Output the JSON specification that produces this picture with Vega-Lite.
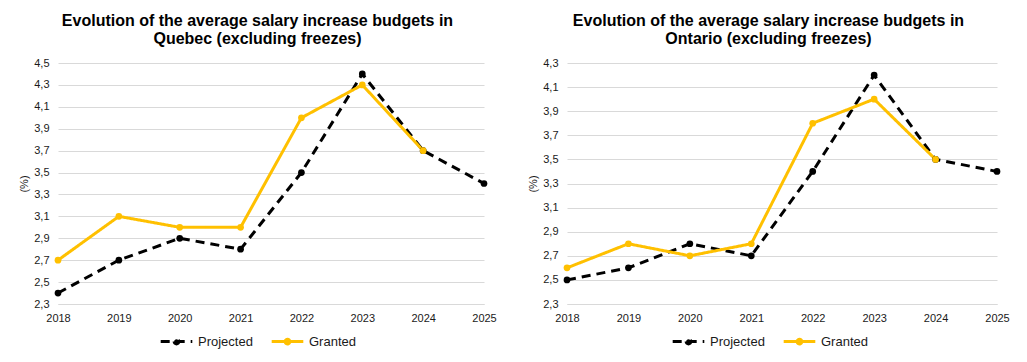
{
  "$schema": "https://vega.github.io/schema/vega-lite/v6.json",
  "background": "white",
  "padding": {"left": 18, "top": 13, "right": 10, "bottom": 5},
  "datasets": {
    "d": [
      {"region": "Quebec", "year": "2018", "series": "Projected", "value": 2.4},
      {"region": "Quebec", "year": "2019", "series": "Projected", "value": 2.7},
      {"region": "Quebec", "year": "2020", "series": "Projected", "value": 2.9},
      {"region": "Quebec", "year": "2021", "series": "Projected", "value": 2.8},
      {"region": "Quebec", "year": "2022", "series": "Projected", "value": 3.5},
      {"region": "Quebec", "year": "2023", "series": "Projected", "value": 4.4},
      {"region": "Quebec", "year": "2024", "series": "Projected", "value": 3.7},
      {"region": "Quebec", "year": "2025", "series": "Projected", "value": 3.4},
      {"region": "Quebec", "year": "2018", "series": "Granted", "value": 2.7},
      {"region": "Quebec", "year": "2019", "series": "Granted", "value": 3.1},
      {"region": "Quebec", "year": "2020", "series": "Granted", "value": 3.0},
      {"region": "Quebec", "year": "2021", "series": "Granted", "value": 3.0},
      {"region": "Quebec", "year": "2022", "series": "Granted", "value": 4.0},
      {"region": "Quebec", "year": "2023", "series": "Granted", "value": 4.3},
      {"region": "Quebec", "year": "2024", "series": "Granted", "value": 3.7},
      {"region": "Ontario", "year": "2018", "series": "Projected", "value": 2.5},
      {"region": "Ontario", "year": "2019", "series": "Projected", "value": 2.6},
      {"region": "Ontario", "year": "2020", "series": "Projected", "value": 2.8},
      {"region": "Ontario", "year": "2021", "series": "Projected", "value": 2.7},
      {"region": "Ontario", "year": "2022", "series": "Projected", "value": 3.4},
      {"region": "Ontario", "year": "2023", "series": "Projected", "value": 4.2},
      {"region": "Ontario", "year": "2024", "series": "Projected", "value": 3.5},
      {"region": "Ontario", "year": "2025", "series": "Projected", "value": 3.4},
      {"region": "Ontario", "year": "2018", "series": "Granted", "value": 2.6},
      {"region": "Ontario", "year": "2019", "series": "Granted", "value": 2.8},
      {"region": "Ontario", "year": "2020", "series": "Granted", "value": 2.7},
      {"region": "Ontario", "year": "2021", "series": "Granted", "value": 2.8},
      {"region": "Ontario", "year": "2022", "series": "Granted", "value": 3.8},
      {"region": "Ontario", "year": "2023", "series": "Granted", "value": 4.0},
      {"region": "Ontario", "year": "2024", "series": "Granted", "value": 3.5}
    ]
  },
  "spacing": 30,
  "hconcat": [
    {
      "width": 426,
      "height": 241,
      "title": {"text": ["Evolution of the average salary increase budgets in", "Quebec (excluding freezes)"]},
      "data": {"name": "d"},
      "transform": [{"filter": "datum.region === 'Quebec'"}],
      "mark": {"type": "line", "strokeWidth": 3, "point": {"filled": true, "size": 45}},
      "encoding": {
        "x": {"field": "year", "type": "ordinal", "scale": {"type": "point", "padding": 0}, "axis": {"labelAngle": 0, "title": null}},
        "y": {"field": "value", "type": "quantitative", "scale": {"domain": [2.3, 4.5], "nice": false, "zero": false},
              "axis": {"title": "(%)", "values": [2.3, 2.5, 2.7, 2.9, 3.1, 3.3, 3.5, 3.7, 3.9, 4.1, 4.3, 4.5], "labelExpr": "replace(format(datum.value, '.1f'), '.', ',')"}},
        "color": {"field": "series", "type": "nominal", "scale": {"domain": ["Projected", "Granted"], "range": ["#000000", "#FFC000"]},
                  "legend": {"title": null, "orient": "none", "legendX": 101, "legendY": 261, "direction": "horizontal", "symbolType": "M-1,0L1,0M-0.15,0A0.15,0.15 0 1,0 0.15,0A0.15,0.15 0 1,0 -0.15,0", "symbolSize": 1000, "symbolStrokeWidth": 3, "labelFontSize": 13, "columnPadding": 12}},
        "strokeDash": {"field": "series", "type": "nominal", "scale": {"domain": ["Projected", "Granted"], "range": [[9, 6], [1, 0]]},
                  "legend": {"title": null, "orient": "none", "legendX": 101, "legendY": 261, "direction": "horizontal", "symbolType": "M-1,0L1,0M-0.15,0A0.15,0.15 0 1,0 0.15,0A0.15,0.15 0 1,0 -0.15,0", "symbolSize": 1000, "symbolStrokeWidth": 3, "labelFontSize": 13, "columnPadding": 12}}
      }
    },
    {
      "width": 430,
      "height": 241,
      "title": {"text": ["Evolution of the average salary increase budgets in", "Ontario (excluding freezes)"]},
      "data": {"name": "d"},
      "transform": [{"filter": "datum.region === 'Ontario'"}],
      "mark": {"type": "line", "strokeWidth": 3, "point": {"filled": true, "size": 45}},
      "encoding": {
        "x": {"field": "year", "type": "ordinal", "scale": {"type": "point", "padding": 0}, "axis": {"labelAngle": 0, "title": null}},
        "y": {"field": "value", "type": "quantitative", "scale": {"domain": [2.3, 4.3], "nice": false, "zero": false},
              "axis": {"title": "(%)", "values": [2.3, 2.5, 2.7, 2.9, 3.1, 3.3, 3.5, 3.7, 3.9, 4.1, 4.3], "labelExpr": "replace(format(datum.value, '.1f'), '.', ',')"}},
        "color": {"field": "series", "type": "nominal", "scale": {"domain": ["Projected", "Granted"], "range": ["#000000", "#FFC000"]},
                  "legend": {"title": null, "orient": "none", "legendX": 104, "legendY": 261, "direction": "horizontal", "symbolType": "M-1,0L1,0M-0.15,0A0.15,0.15 0 1,0 0.15,0A0.15,0.15 0 1,0 -0.15,0", "symbolSize": 1000, "symbolStrokeWidth": 3, "labelFontSize": 13, "columnPadding": 12}},
        "strokeDash": {"field": "series", "type": "nominal", "scale": {"domain": ["Projected", "Granted"], "range": [[9, 6], [1, 0]]},
                  "legend": {"title": null, "orient": "none", "legendX": 104, "legendY": 261, "direction": "horizontal", "symbolType": "M-1,0L1,0M-0.15,0A0.15,0.15 0 1,0 0.15,0A0.15,0.15 0 1,0 -0.15,0", "symbolSize": 1000, "symbolStrokeWidth": 3, "labelFontSize": 13, "columnPadding": 12}}
      }
    }
  ],
  "resolve": {
    "scale": {"x": "independent", "y": "independent", "color": "independent", "strokeDash": "independent"},
    "legend": {"color": "independent", "strokeDash": "independent"}
  },
  "config": {
    "font": "Liberation Sans",
    "view": {"stroke": null},
    "title": {"fontSize": 16, "fontWeight": "bold", "color": "#000000", "lineHeight": 18, "anchor": "middle", "frame": "bounds", "offset": 10},
    "axis": {"labelFont": "Liberation Sans", "labelFontSize": 11, "labelColor": "#1a1a1a", "titleFont": "Liberation Sans", "titleFontSize": 11, "titleFontWeight": "normal", "titleColor": "#1a1a1a", "ticks": false, "gridColor": "#d9d9d9", "gridWidth": 1},
    "axisY": {"domain": false, "grid": true, "labelPadding": 9, "titlePadding": 4},
    "axisX": {"domain": true, "domainColor": "#d9d9d9", "grid": false, "labelPadding": 8},
    "legend": {"labelFont": "Liberation Sans", "labelColor": "#1a1a1a"}
  }
}
